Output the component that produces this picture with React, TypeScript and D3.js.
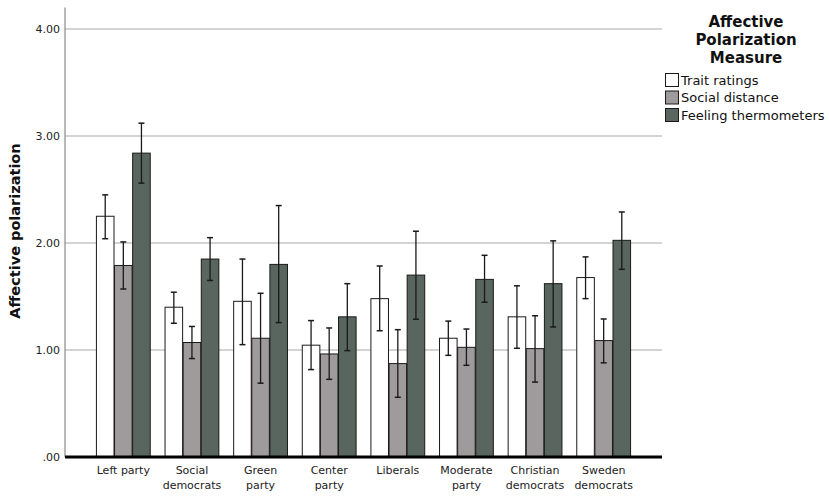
import React, { useEffect, useRef } from 'react';
import * as d3 from 'd3';

const parties = ['Left party', 'Social democrats', 'Green party', 'Center party', 'Liberals', 'Moderate party', 'Christian democrats', 'Sweden democrats'];
const partyLines = [['Left party'], ['Social', 'democrats'], ['Green', 'party'], ['Center', 'party'], ['Liberals'], ['Moderate', 'party'], ['Christian', 'democrats'], ['Sweden', 'democrats']];
const measures = ['Trait ratings', 'Social distance', 'Feeling thermometers'];

// means and 95% CI (low, high) per party
const traitMean = [2.25, 1.40, 1.455, 1.045, 1.48, 1.11, 1.31, 1.677];
const traitLow = [2.04, 1.25, 1.05, 0.817, 1.18, 0.95, 1.016, 1.48];
const traitHigh = [2.45, 1.54, 1.85, 1.275, 1.785, 1.27, 1.60, 1.87];

const socialMean = [1.79, 1.07, 1.11, 0.963, 0.873, 1.025, 1.013, 1.088];
const socialLow = [1.57, 0.92, 0.69, 0.726, 0.558, 0.857, 0.70, 0.88];
const socialHigh = [2.01, 1.22, 1.53, 1.206, 1.19, 1.196, 1.32, 1.29];

const feelingMean = [2.84, 1.85, 1.80, 1.31, 1.70, 1.66, 1.62, 2.025];
const feelingLow = [2.56, 1.65, 1.256, 0.994, 1.287, 1.446, 1.215, 1.754];
const feelingHigh = [3.12, 2.05, 2.35, 1.62, 2.11, 1.885, 2.02, 2.29];

const yTicks = [0, 1, 2, 3, 4];
const colors = ['#ffffff', '#9f9a9b', '#59655f'];

export default function App() {
  const svgRef = useRef<SVGSVGElement>(null);

  useEffect(() => {
    if (!svgRef.current) return;
    const svg = d3.select(svgRef.current);
    svg.selectAll('*').remove();

    const font = 'DejaVu Sans, sans-serif';
    const left = 65, right = 662, bottom = 457;

    const x = d3.scaleBand().domain(parties).range([left, right]).paddingInner(0.2).paddingOuter(0.45);
    const xi = d3.scaleBand().domain(measures).range([0, x.bandwidth()]).padding(0.03);
    const y = d3.scaleLinear().domain([0, 4]).range([bottom, 29]);

    // grid
    svg.append('g').selectAll('line').data(yTicks.filter(t => t > 0)).enter().append('line')
      .attr('x1', left).attr('x2', right).attr('y1', d => y(d)).attr('y2', d => y(d))
      .attr('stroke', '#c4c4c4').attr('stroke-width', 1.3);

    // y axis line
    svg.append('line').attr('x1', left).attr('x2', left).attr('y1', y(4.2)).attr('y2', bottom)
      .attr('stroke', '#8a8a8a').attr('stroke-width', 1.2);

    svg.append('g').selectAll('text').data(yTicks).enter().append('text')
      .attr('x', 60).attr('y', d => y(d)).attr('dy', '0.35em').attr('text-anchor', 'end')
      .attr('font-family', font).attr('font-size', 11).attr('fill', '#222')
      .text(d => d === 0 ? '.00' : d3.format('.2f')(d));

    const series = [
      { mean: traitMean, low: traitLow, high: traitHigh },
      { mean: socialMean, low: socialLow, high: socialHigh },
      { mean: feelingMean, low: feelingLow, high: feelingHigh },
    ];

    series.forEach((s, si) => {
      const g = svg.append('g');
      const bx = (i: number) => x(parties[i])! + xi(measures[si])!;
      const bw = xi.bandwidth();
      g.selectAll('rect').data(s.mean).enter().append('rect')
        .attr('x', (_d, i) => bx(i)).attr('width', bw)
        .attr('y', d => y(d)).attr('height', d => bottom - y(d))
        .attr('fill', colors[si]).attr('stroke', '#1a1a1a').attr('stroke-width', 1);
      const cx = (i: number) => bx(i) + bw / 2;
      s.mean.forEach((_m, i) => {
        g.append('line').attr('x1', cx(i)).attr('x2', cx(i)).attr('y1', y(s.low[i])).attr('y2', y(s.high[i]))
          .attr('stroke', '#1a1a1a').attr('stroke-width', 1.3);
        [s.low[i], s.high[i]].forEach(v => {
          g.append('line').attr('x1', cx(i) - 3).attr('x2', cx(i) + 3).attr('y1', y(v)).attr('y2', y(v))
            .attr('stroke', '#1a1a1a').attr('stroke-width', 1.5);
        });
      });
    });

    // x axis
    svg.append('line').attr('x1', left).attr('x2', right).attr('y1', bottom).attr('y2', bottom)
      .attr('stroke', '#000').attr('stroke-width', 3);

    const xl = svg.append('g');
    parties.forEach((p, i) => {
      const cx = x(p)! + x.bandwidth() / 2;
      partyLines[i].forEach((ln, j) => {
        xl.append('text').attr('x', cx).attr('y', 474 + j * 14.5)
          .attr('text-anchor', 'middle').attr('font-family', font).attr('font-size', 11).attr('fill', '#222')
          .text(ln);
      });
    });

    // y title
    svg.append('text').attr('transform', 'translate(20,231) rotate(-90)').attr('text-anchor', 'middle')
      .attr('font-family', font).attr('font-size', 14.5).attr('font-weight', 'bold').attr('fill', '#111')
      .text('Affective polarization');

    // legend
    const lg = svg.append('g');
    ['Affective', 'Polarization', 'Measure'].forEach((t, i) => {
      lg.append('text').attr('x', 746).attr('y', 27 + i * 17.8).attr('text-anchor', 'middle')
        .attr('font-family', font).attr('font-size', 15).attr('font-weight', 'bold').attr('fill', '#111').text(t);
    });
    measures.forEach((m, i) => {
      const cy = 80 + i * 17.5;
      lg.append('rect').attr('x', 665.5).attr('y', cy - 6.5).attr('width', 13).attr('height', 13)
        .attr('fill', colors[i]).attr('stroke', '#1a1a1a').attr('stroke-width', 1);
      lg.append('text').attr('x', 681).attr('y', cy).attr('dy', '0.35em')
        .attr('font-family', font).attr('font-size', 13).attr('fill', '#111').text(m);
    });
  }, []);

  return (
    <svg ref={svgRef} width={829} height={497}
      style={{ position: 'absolute', left: 0, top: 0, background: '#fff' }} />
  );
}
